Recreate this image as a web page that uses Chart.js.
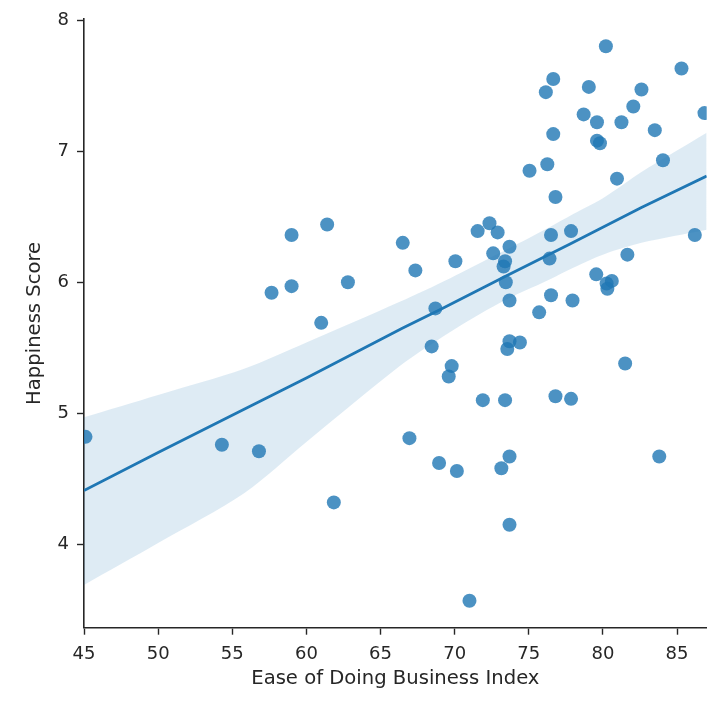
<!DOCTYPE html>
<html>
<head>
<meta charset="utf-8">
<script src="https://cdn.jsdelivr.net/npm/chart.js@4/dist/chart.umd.min.js"></script>
<style>
  body { margin: 0; background: #fff; }
  #wrap { width: 726px; height: 712px; }
</style>
</head>
<body>
<div id="wrap"><canvas id="happy_chart" width="726" height="712"></canvas></div>
<script>
// -------------------
// DATA
// -------------------
var easeIndex = [
    45.1, 54.3, 56.8, 57.65, 59.0, 59.0, 61.0, 61.4, 61.85, 62.8,
    66.5, 66.95, 67.35, 68.45, 68.7, 68.95, 69.6, 69.8, 70.05, 70.15,
    71.0, 71.55, 71.9, 72.35, 72.6, 72.9, 73.15, 73.3, 73.4, 73.4,
    73.45, 73.55, 73.7, 73.7, 73.7, 73.7, 73.7, 74.4, 75.05, 75.7,
    76.15, 76.25, 76.4, 76.5, 76.5, 76.65, 76.65, 76.8, 76.8, 77.85,
    77.95, 77.85, 78.7, 79.05, 79.55, 79.6, 79.6, 79.8, 80.2, 80.25,
    80.3, 80.6, 80.95, 81.25, 81.5, 81.65, 82.05, 82.6, 83.5, 83.8,
    84.05, 85.3, 86.2, 86.85
];
var happiness = [
    4.82, 4.76, 4.71, 5.92, 5.97, 6.36, 5.69, 6.44, 4.32, 6.00,
    6.30, 4.81, 6.09, 5.51, 5.80, 4.62, 5.28, 5.36, 6.16, 4.56,
    3.57, 6.39, 5.10, 6.45, 6.22, 6.38, 4.58, 6.12, 6.16, 5.10,
    6.00, 5.49, 6.27, 5.86, 5.55, 4.67, 4.15, 5.54, 6.85, 5.77,
    7.45, 6.90, 6.18, 6.36, 5.90, 7.55, 7.13, 6.65, 5.13, 6.39,
    5.86, 5.11, 7.28, 7.49, 6.06, 7.22, 7.08, 7.06, 7.80, 5.99,
    5.95, 6.01, 6.79, 7.22, 5.38, 6.21, 7.34, 7.47, 7.16, 4.67,
    6.93, 7.63, 6.36, 7.29
];

// regression line
var fitX = [45, 50, 55.8, 60, 66.5, 69, 73.5, 77.75, 82.6, 87];
var fitY = [4.41, 4.70, 5.03, 5.27, 5.65, 5.79, 6.05, 6.29, 6.57, 6.81];

// confidence band edges
var bandX = [45, 50, 55.8, 60, 66.3, 69.7, 73, 76.4, 78, 80, 82.6, 87];
var bandUpper = [4.97, 5.14, 5.34, 5.54, 5.85, 6.03, 6.22, 6.42, 6.52, 6.64, 6.84, 7.14];
var bandLower = [3.69, 4.01, 4.39, 4.78, 5.36, 5.62, 5.84, 6.02, 6.11, 6.21, 6.30, 6.40];

var xTicks = [45, 50, 55, 60, 65, 70, 75, 80, 85];
var yTicks = [4, 5, 6, 7, 8];

// -------------------
// CHART
// -------------------
const blue = '#1f77b4';
const ink = '#262626';

function pts(xs, ys) {
    return xs.map(function(x, i) { return { x: x, y: ys[i] }; });
}

Chart.defaults.font.family = "'DejaVu Sans', sans-serif";
Chart.defaults.color = ink;

const axisCommon = {
    type: 'linear',
    border: { display: true, color: ink, width: 1.6 },
    grid: {
        display: true,
        drawOnChartArea: false,
        drawTicks: true,
        tickLength: 7,
        tickWidth: 1.4,
        tickColor: ink,
    },
};

const options = {
    responsive: false,
    animation: false,
    layout: {
        padding: { left: 0, right: 19.3, top: 19, bottom: 0 },
    },
    plugins: {
        legend: { display: false },
        tooltip: { enabled: false },
    },
    scales: {
        x: Object.assign({}, axisCommon, {
            min: 45,
            max: 87,
            afterFit: function(scale) { scale.height = 84.3; },
            afterBuildTicks: function(scale) {
                scale.ticks = xTicks.map(function(v) { return { value: v }; });
            },
            ticks: {
                padding: 9,
                font: { size: 18 },
                color: ink,
                includeBounds: false,
            },
            title: {
                display: true,
                text: 'Ease of Doing Business Index',
                font: { size: 19.6 },
                color: ink,
                padding: 21,
            },
        }),
        y: Object.assign({}, axisCommon, {
            min: 3.364,
            max: 8.008,
            afterFit: function(scale) { scale.width = 84; },
            afterBuildTicks: function(scale) {
                scale.ticks = yTicks.map(function(v) { return { value: v }; });
            },
            ticks: {
                padding: 8,
                font: { size: 18 },
                color: ink,
                includeBounds: false,
            },
            title: {
                display: true,
                text: 'Happiness Score',
                font: { size: 19.6 },
                color: ink,
                padding: 23,
            },
        }),
    },
};

const chartInfo = {
    datasets: [
        {
            type: 'line',
            label: 'fit',
            data: pts(fitX, fitY),
            borderColor: blue,
            borderWidth: 2.8,
            pointRadius: 0,
            fill: false,
        },
        {
            type: 'line',
            label: 'ci upper',
            data: pts(bandX, bandUpper),
            borderWidth: 0,
            borderColor: 'rgba(0,0,0,0)',
            pointRadius: 0,
            tension: 0.3,
            backgroundColor: 'rgba(31,119,180,0.15)',
            fill: '+1',
        },
        {
            type: 'line',
            label: 'ci lower',
            data: pts(bandX, bandLower),
            borderWidth: 0,
            borderColor: 'rgba(0,0,0,0)',
            pointRadius: 0,
            tension: 0.3,
            fill: false,
        },
        {
            type: 'scatter',
            label: 'countries',
            data: pts(easeIndex, happiness),
            backgroundColor: 'rgba(31,119,180,0.8)',
            borderWidth: 0,
            pointRadius: 7,
            clip: 0,
        },
    ],
};

var ctx = document.getElementById('happy_chart').getContext('2d');
var myChart = new Chart(ctx, {
    type: 'scatter',
    data: chartInfo,
    options: options,
});
</script>
</body>
</html>
